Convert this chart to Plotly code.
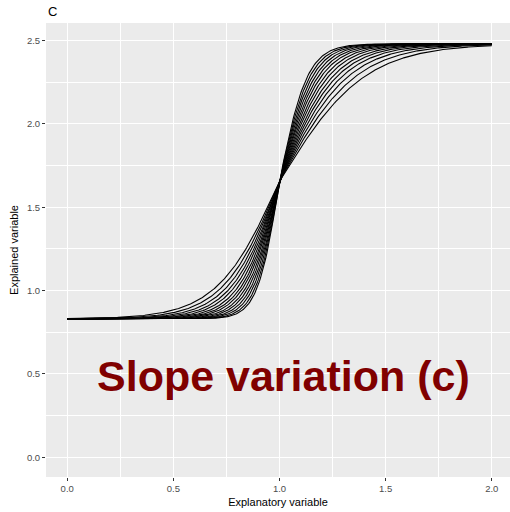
import numpy as np
import plotly.graph_objects as go

# Model parameters (sigmoid curves with varying slope,
# all crossing at the midpoint; lower/upper halves read separately)
lower_asymptote = 0.83
upper_asymptote = 2.48
midpoint = 1.0
slopes_lower_half = [6.8, 7.5, 8.2, 8.9, 9.6, 10.4, 11.2, 12.0, 13.0, 14.0, 15.2, 16.5, 18.0, 19.5]
slopes_upper_half = [5.0, 5.6, 6.2, 6.8, 7.4, 8.0, 8.7, 9.4, 10.2, 11.0, 11.9, 12.9, 14.0, 15.2]

x_ticks = [0.0, 0.5, 1.0, 1.5, 2.0]
x_tick_labels = ["0.0", "0.5", "1.0", "1.5", "2.0"]
y_ticks = [0.0, 0.5, 1.0, 1.5, 2.0, 2.5]
y_tick_labels = ["0.0", "0.5", "1.0", "1.5", "2.0", "2.5"]

x = np.linspace(0, 2, 401)

fig = go.Figure()
for k_lo, k_hi in zip(slopes_lower_half, slopes_upper_half):
    k = np.where(x < midpoint, k_lo, k_hi)
    y = lower_asymptote + (upper_asymptote - lower_asymptote) / (1 + np.exp(-k * (x - midpoint)))
    fig.add_trace(go.Scatter(x=x, y=y, mode="lines",
                             line=dict(color="black", width=1.1),
                             showlegend=False, hoverinfo="skip"))

FONT = "Liberation Sans, Arial, sans-serif"
axis_common = dict(
    showgrid=True, gridcolor="white", gridwidth=1.1,
    zeroline=False, showline=False,
    ticks="outside", ticklen=3, tickwidth=1, tickcolor="#333333",
    tickfont=dict(family=FONT, size=9.5, color="#4D4D4D"),
)

fig.update_layout(
    width=510, height=512,
    margin=dict(l=46, r=0, t=23, b=35),
    paper_bgcolor="white",
    plot_bgcolor="#EBEBEB",
    font=dict(family=FONT),
    xaxis=dict(range=[-0.1, 2.086], tickvals=x_ticks, ticktext=x_tick_labels,
               title=dict(text="Explanatory variable", font=dict(size=11, color="black"), standoff=4),
               **axis_common),
    yaxis=dict(range=[-0.118, 2.605], tickvals=y_ticks, ticktext=y_tick_labels,
               title=dict(text="Explained variable", font=dict(size=11, color="black"), standoff=6),
               **axis_common),
)
fig.update_xaxes(minor=dict(tickvals=[0.25, 0.75, 1.25, 1.75], showgrid=True, gridcolor="white", gridwidth=0.5, ticks=""))
fig.update_yaxes(minor=dict(tickvals=[0.25, 0.75, 1.25, 1.75, 2.25], showgrid=True, gridcolor="white", gridwidth=0.5, ticks=""))

fig.add_annotation(text="C", xref="paper", yref="paper", x=0, y=1, xanchor="left", yanchor="bottom",
                   yshift=2, showarrow=False, font=dict(family=FONT, size=13, color="black"))

fig.add_annotation(text="<b>Slope variation (c)</b>", xref="x", yref="y", x=1.018, y=0.49,
                   xanchor="center", yanchor="middle", showarrow=False,
                   font=dict(family=FONT, size=43, color="#800000"))

fig.write_html("out.html", config={"displayModeBar": False},
               post_script="document.body.style.margin='0';document.body.style.padding='0';")
